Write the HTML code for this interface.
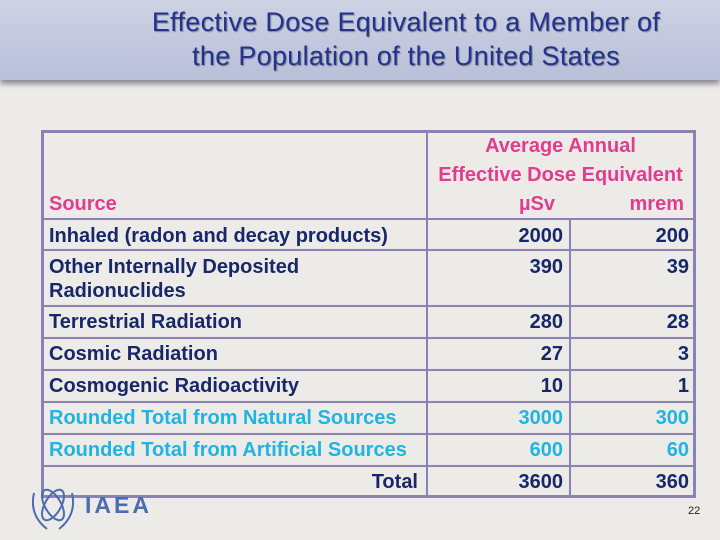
<!DOCTYPE html>
<html><head><meta charset="utf-8"><style>
body{margin:0;width:720px;height:540px;overflow:hidden;background:#edebe7;font-family:"Liberation Sans",Arial,sans-serif;position:relative}
.hdr{position:absolute;left:0;top:0;width:720px;height:80px;background:linear-gradient(#cdd2e4,#b9bfd8);box-shadow:0 4px 5px rgba(60,60,80,.55)}
.title{position:absolute;left:0;width:720px;text-align:center;top:5px;font-size:27px;line-height:34px;color:#22338f;text-shadow:1px 1px 1px rgba(0,0,0,.35);padding-left:92px;box-sizing:border-box;letter-spacing:0.3px}
.t{position:absolute;font-weight:bold;font-size:20px;white-space:nowrap;line-height:24px}
.n{color:#17286a}.c{color:#1fb4e2}.p{color:#e23c8f}
.r{text-align:right}
.ln{position:absolute;background:#8a82b6}
</style></head><body>
<div class="hdr"></div>
<div class="title">Effective Dose Equivalent to a Member of<br>the Population of the United States</div>

<div>
<div class="ln" style="left:41px;top:130px;width:654px;height:3px"></div>
<div class="ln" style="left:41px;top:495px;width:654px;height:3px"></div>
<div class="ln" style="left:41px;top:130px;width:3px;height:368px"></div>
<div class="ln" style="left:693px;top:130px;width:3px;height:368px"></div>
<div class="ln" style="left:426px;top:130px;width:2px;height:368px"></div>
<div class="ln" style="left:569px;top:218px;width:2px;height:280px"></div>
<div class="ln" style="left:41px;top:218px;width:654px;height:2px"></div>
<div class="ln" style="left:41px;top:249px;width:654px;height:2px"></div>
<div class="ln" style="left:41px;top:305px;width:654px;height:2px"></div>
<div class="ln" style="left:41px;top:337px;width:654px;height:2px"></div>
<div class="ln" style="left:41px;top:369px;width:654px;height:2px"></div>
<div class="ln" style="left:41px;top:401px;width:654px;height:2px"></div>
<div class="ln" style="left:41px;top:433px;width:654px;height:2px"></div>
<div class="ln" style="left:41px;top:465px;width:654px;height:2px"></div>

<div class="t p" style="left:49px;top:192px">Source</div>
<div class="t p" style="left:428px;width:265px;text-align:center;top:134px">Average Annual</div>
<div class="t p" style="left:428px;width:265px;text-align:center;top:163px">Effective Dose Equivalent</div>
<div class="t p" style="left:519px;top:192px">µSv</div>
<div class="t p r" style="left:600px;width:84px;top:192px">mrem</div>

<div class="t n" style="left:49px;top:224px">Inhaled (radon and decay products)</div>
<div class="t n r" style="left:440px;width:123px;top:224px">2000</div>
<div class="t n r" style="left:580px;width:109px;top:224px">200</div>

<div class="t n" style="left:49px;top:255px">Other Internally Deposited<br>Radionuclides</div>
<div class="t n r" style="left:440px;width:123px;top:255px">390</div>
<div class="t n r" style="left:580px;width:109px;top:255px">39</div>

<div class="t n" style="left:49px;top:310px">Terrestrial Radiation</div>
<div class="t n r" style="left:440px;width:123px;top:310px">280</div>
<div class="t n r" style="left:580px;width:109px;top:310px">28</div>

<div class="t n" style="left:49px;top:342px">Cosmic Radiation</div>
<div class="t n r" style="left:440px;width:123px;top:342px">27</div>
<div class="t n r" style="left:580px;width:109px;top:342px">3</div>

<div class="t n" style="left:49px;top:374px">Cosmogenic Radioactivity</div>
<div class="t n r" style="left:440px;width:123px;top:374px">10</div>
<div class="t n r" style="left:580px;width:109px;top:374px">1</div>

<div class="t c" style="left:49px;top:406px">Rounded Total from Natural Sources</div>
<div class="t c r" style="left:440px;width:123px;top:406px">3000</div>
<div class="t c r" style="left:580px;width:109px;top:406px">300</div>

<div class="t c" style="left:49px;top:438px">Rounded Total from Artificial Sources</div>
<div class="t c r" style="left:440px;width:123px;top:438px">600</div>
<div class="t c r" style="left:580px;width:109px;top:438px">60</div>

<div class="t n r" style="left:300px;width:118px;top:470px">Total</div>
<div class="t n r" style="left:440px;width:123px;top:470px">3600</div>
<div class="t n r" style="left:580px;width:109px;top:470px">360</div>
</div>

<div style="position:absolute;left:28px;top:483px;width:50px;height:50px">
<svg width="50" height="50" viewBox="0 0 50 50"><g fill="none" stroke="#4a6cb0" stroke-width="2"><ellipse cx="25" cy="22" rx="8" ry="17" transform="rotate(30 25 22)"/><ellipse cx="25" cy="22" rx="8" ry="17" transform="rotate(-30 25 22)"/><path d="M6 10 Q1 32 19 46 M44 10 Q49 32 31 46"/></g></svg>
</div>
<div style="position:absolute;left:85px;top:492px;font-weight:bold;font-size:23px;color:#4a6cb0;letter-spacing:3px">IAEA</div>
<div style="position:absolute;left:688px;top:505px;font-size:11px;color:#222">22</div>
</body></html>
